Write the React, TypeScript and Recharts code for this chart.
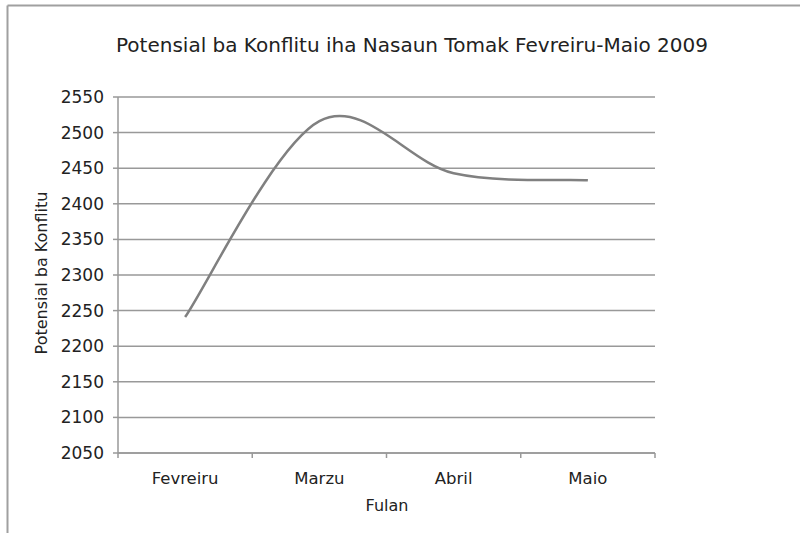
import React from 'react';
import { LineChart, Line, XAxis, YAxis, CartesianGrid } from 'recharts';

const months = ['Fevreiru', 'Marzu', 'Abril', 'Maio'];
const conflictValues = [2241, 2516, 2443, 2433];
const yTicks = [2050, 2100, 2150, 2200, 2250, 2300, 2350, 2400, 2450, 2500, 2550];
const titleText = 'Potensial ba Konflitu iha Nasaun Tomak Fevreiru-Maio 2009';
const yLabel = 'Potensial ba Konflitu';
const xLabel = 'Fulan';

const data = months.map((m, i) => ({ pos: i + 0.5, name: m, value: conflictValues[i] }));
const xTicks: number[] = [];
for (let i = 0; i <= months.length * 2; i++) xTicks.push(i / 2);

const FONT = '"DejaVu Sans", Verdana, sans-serif';
const TEXT = '#222';
const GRID = '#999';

// Excel-like smoothed line (Catmull-Rom / cardinal with tension 0)
function excelCurve(context: any) {
  let pts: number[][] = [];
  return {
    areaStart() {},
    areaEnd() {},
    lineStart() {
      pts = [];
    },
    point(x: number, y: number) {
      pts.push([+x, +y]);
    },
    lineEnd() {
      const n = pts.length;
      if (!n) return;
      context.moveTo(pts[0][0], pts[0][1]);
      for (let i = 0; i < n - 1; i++) {
        const p0 = pts[Math.max(i - 1, 0)];
        const p1 = pts[i];
        const p2 = pts[i + 1];
        const p3 = pts[Math.min(i + 2, n - 1)];
        const c1x = p1[0] + (p2[0] - p0[0]) / 6;
        const c1y = p1[1] + (p2[1] - p0[1]) / 6;
        const c2x = p2[0] - (p3[0] - p1[0]) / 6;
        const c2y = p2[1] - (p3[1] - p1[1]) / 6;
        context.bezierCurveTo(c1x, c1y, c2x, c2y, p2[0], p2[1]);
      }
    },
  };
}

const XTick = (props: any) => {
  const { x, y, payload } = props;
  const v = payload.value;
  if (Number.isInteger(v)) {
    return <line x1={x} y1={y} x2={x} y2={y + 5} stroke={GRID} strokeWidth={1.5} />;
  }
  const label = months[Math.floor(v)];
  return (
    <text x={x} y={y + 25} textAnchor="middle" dominantBaseline="central" fontFamily={FONT} fontSize={16.5} fill={TEXT}>
      {label}
    </text>
  );
};

export default function App() {
  return (
    <div style={{ position: 'fixed', left: 0, top: 0, width: 800, height: 533, background: '#fff', overflow: 'hidden' }}>
      <LineChart width={800} height={533} data={data} margin={{ top: 97, right: 145, bottom: 0, left: 0 }}>
        <line x1={7.5} y1={5.5} x2={800} y2={5.5} stroke="#a0a0a0" strokeWidth={2} />
        <line x1={7.5} y1={5.5} x2={7.5} y2={533} stroke="#a0a0a0" strokeWidth={2} />
        <text x={412} y={45} textAnchor="middle" dominantBaseline="central" fontFamily={FONT} fontSize={20} fill={TEXT}>
          {titleText}
        </text>
        <text
          x={41}
          y={273}
          transform="rotate(-90, 41, 273)"
          textAnchor="middle"
          dominantBaseline="central"
          fontFamily={FONT}
          fontSize={16}
          fill={TEXT}
        >
          {yLabel}
        </text>
        <text x={387} y={505} textAnchor="middle" dominantBaseline="central" fontFamily={FONT} fontSize={16} fill={TEXT}>
          {xLabel}
        </text>
        <CartesianGrid vertical={false} stroke={GRID} strokeWidth={1.5} />
        <XAxis
          dataKey="pos"
          type="number"
          domain={[0, months.length]}
          ticks={xTicks}
          interval={0}
          height={80}
          tickSize={0}
          tickMargin={0}
          tickLine={false}
          axisLine={{ stroke: GRID, strokeWidth: 1.5 }}
          tick={<XTick />}
        />
        <YAxis
          domain={[2050, 2550]}
          ticks={yTicks}
          interval={0}
          width={118}
          tickSize={5}
          tickMargin={9}
          tickLine={{ stroke: GRID, strokeWidth: 1.5 }}
          axisLine={{ stroke: GRID, strokeWidth: 1.5 }}
          tick={{ fontFamily: FONT, fontSize: 17, fill: TEXT }}
        />
        <Line
          dataKey="value"
          type={excelCurve as any}
          stroke="#808080"
          strokeWidth={2.5}
          dot={false}
          isAnimationActive={false}
        />
      </LineChart>
    </div>
  );
}
